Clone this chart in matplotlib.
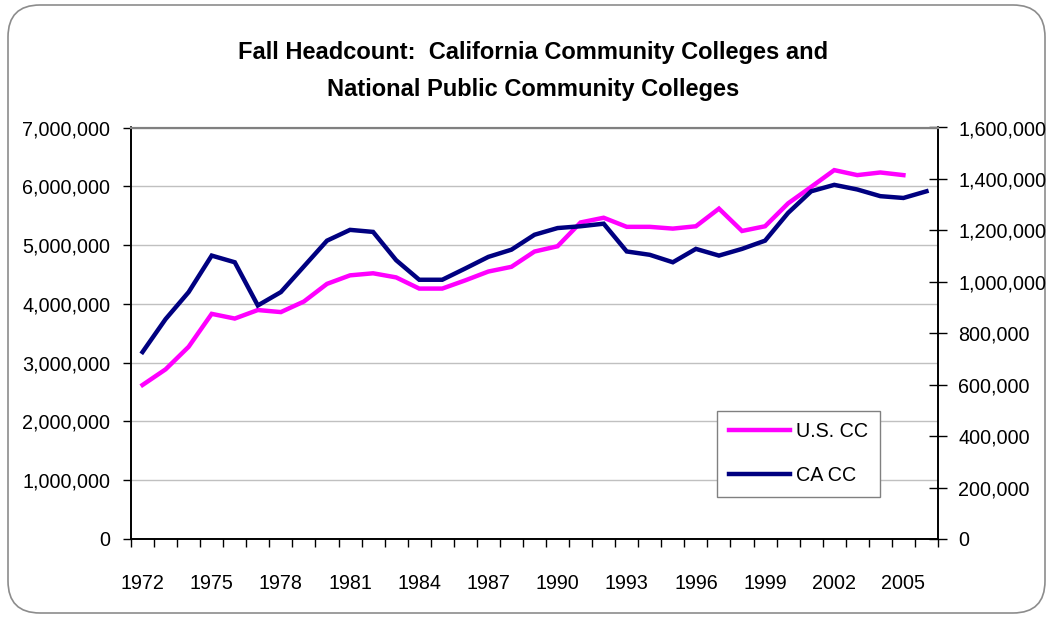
import matplotlib

matplotlib.use("Agg")
import matplotlib.pyplot as plt
from matplotlib.patches import FancyBboxPatch
from matplotlib.ticker import FuncFormatter, MultipleLocator

years = list(range(1972, 2007))
us_cc = [
    2620000, 2886000, 3270000, 3830000, 3750000, 3895000, 3860000, 4040000,
    4340000, 4485000, 4520000, 4450000, 4260000, 4260000, 4400000, 4550000,
    4630000, 4890000, 4980000, 5385000, 5465000, 5310000, 5310000, 5280000,
    5320000, 5620000, 5240000, 5320000, 5710000, 5990000, 6275000, 6190000,
    6235000, 6190000,
]
ca_cc = [
    727000, 855000, 960000, 1102000, 1076000, 908000, 960000, 1060000,
    1160000, 1202000, 1194000, 1084000, 1008000, 1008000, 1052000, 1097000,
    1125000, 1183000, 1209000, 1216000, 1226000, 1118000, 1105000, 1076000,
    1128000, 1102000, 1128000, 1160000, 1268000, 1352000, 1377000, 1359000,
    1333000, 1326000, 1352000,
]
label_years = years[::3]

plt.rcParams["font.family"] = ["Liberation Sans", "DejaVu Sans"]
TICK_SIZE = 14.2

fig = plt.figure(figsize=(10.5, 6.17), dpi=100)
# rounded chart-area border behind everything
fig.patches.append(
    FancyBboxPatch(
        (8, 4), 1037, 608, boxstyle="round,pad=0,rounding_size=32",
        transform=None, facecolor="white", edgecolor="#8c8c8c", linewidth=1.2,
        zorder=-10,
    )
)

ax = fig.add_axes([131 / 1050, 1 - 539 / 617, (938 - 131) / 1050, (539 - 127.5) / 617])
ax.set_facecolor("none")
ax2 = ax.twinx()

pos = list(range(len(years)))
(us_line,) = ax.plot(pos[: len(us_cc)], us_cc, color="#ff00ff", lw=3.2,
                     solid_joinstyle="miter", label="U.S. CC")
(ca_line,) = ax2.plot(pos, ca_cc, color="#000080", lw=3.2,
                      solid_joinstyle="miter", label="CA CC")

ax.set_xlim(-0.5, len(years) - 0.5)
ax.set_ylim(0, 7000000)
ax2.set_ylim(0, 1600000)
ax.yaxis.set_major_locator(MultipleLocator(1000000))
ax2.yaxis.set_major_locator(MultipleLocator(200000))
fmt = FuncFormatter(lambda v, _: f"{v:,.0f}")
ax.yaxis.set_major_formatter(fmt)
ax2.yaxis.set_major_formatter(fmt)

ax.set_xticks([years.index(y) for y in label_years])
ax.set_xticklabels([str(y) for y in label_years])
ax.set_xticks([p - 0.5 for p in range(len(years) + 1)], minor=True)
ax.tick_params(axis="x", which="major", length=0, pad=25, labelsize=TICK_SIZE)
ax.tick_params(axis="x", which="minor", length=6, width=1, direction="out")
ax.tick_params(axis="y", length=6, width=1, direction="out", pad=9, labelsize=TICK_SIZE)
ax2.tick_params(axis="y", length=13, width=1, direction="inout", pad=8, labelsize=TICK_SIZE)

ax.grid(axis="y", color="#c0c0c0", lw=1)
ax.set_axisbelow(True)
for a in (ax, ax2):
    a.spines["top"].set_color("#808080")
    a.spines["top"].set_linewidth(1.5)
    a.spines["left"].set_linewidth(1.2)
    a.spines["right"].set_linewidth(1.2)
    a.spines["bottom"].set_linewidth(1.2)

fig.text(533 / 1050, 1 - 59.5 / 617,
         "Fall Headcount:  California Community Colleges and",
         ha="center", va="baseline", fontsize=17, fontweight="bold")
fig.text(533 / 1050, 1 - 96 / 617, "National Public Community Colleges",
         ha="center", va="baseline", fontsize=17, fontweight="bold")

leg = ax2.legend(
    handles=[us_line, ca_line], loc="upper left",
    bbox_to_anchor=(717 / 1050, 1 - 410.5 / 617), bbox_transform=fig.transFigure,
    borderaxespad=0, fontsize=TICK_SIZE, frameon=True, fancybox=False,
    handlelength=3.1, handletextpad=0.3, labelspacing=1.25, borderpad=0.6,
)
leg.get_frame().set_edgecolor("#808080")
leg.get_frame().set_linewidth(1)
leg.get_frame().set_alpha(1)

fig.savefig("out.png", dpi=100)
